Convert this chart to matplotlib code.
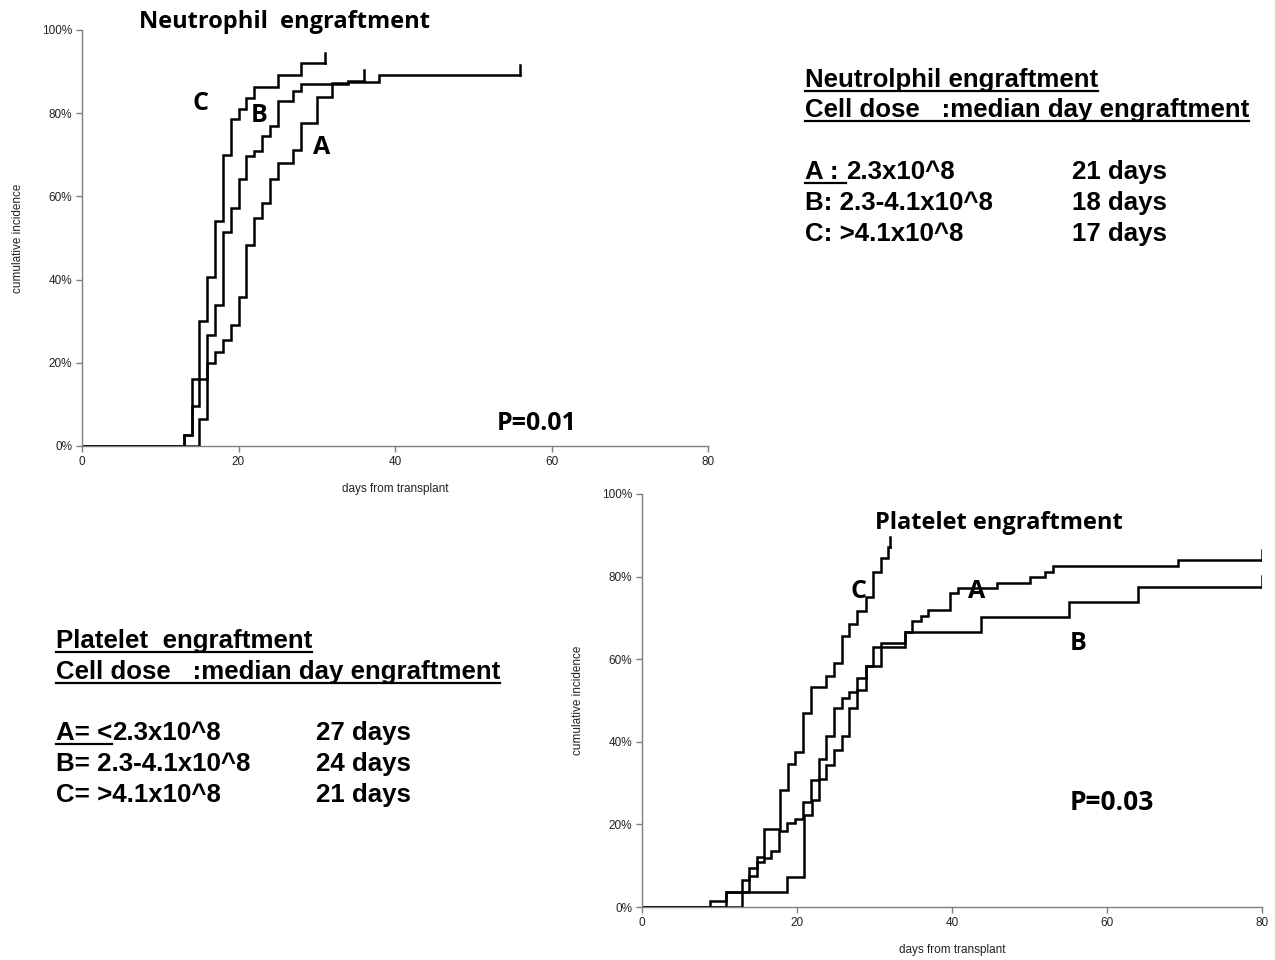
import matplotlib
matplotlib.use('Agg')
import matplotlib.pyplot as plt
from matplotlib.lines import Line2D
from matplotlib.ticker import FuncFormatter

W, H = 1275, 960

# neutrophil engraftment, cumulative incidence (%) by day
neu_a_days = [15, 16, 17, 18, 19, 20, 21, 22, 23, 24, 25, 27, 28, 30, 32, 34, 38]
neu_a_vals = [6.4, 19.9, 22.7, 25.5, 29, 35.9, 48.3, 54.7, 58.3, 64.3, 68, 71.2, 77.6, 83.8, 87, 87.6, 89.2]
neu_a_end = 56
neu_b_days = [13, 14, 15, 16, 17, 18, 19, 20, 21, 22, 23, 24, 25, 27, 28, 32, 34]
neu_b_vals = [2.6, 9.5, 16, 26.7, 33.9, 51.5, 57.1, 64.3, 69.7, 70.8, 74.4, 76.9, 83, 85.4, 87, 87.3, 87.8]
neu_b_end = 36
neu_c_days = [13, 14, 15, 16, 17, 18, 19, 20, 21, 22, 25, 28]
neu_c_vals = [2.6, 16.2, 30, 40.7, 54, 70, 78.5, 81, 83.6, 86.4, 89.2, 92]
neu_c_end = 31

# platelet engraftment
plt_a_days = [10.8, 18.7, 20.9, 21.9, 22.9, 23.8, 24.8, 25.8, 26.7, 27.8, 28.9, 29.8, 33.9,
              34.9, 36.0, 36.9, 39.8, 40.8, 45.8, 50.0, 52.0, 53.0, 69.1]
plt_a_vals = [3.7, 7.3, 22.3, 25.9, 31.0, 34.5, 38.0, 41.5, 48.3, 52.5, 58.4, 62.9, 66.7,
              69.3, 70.5, 71.9, 76.1, 77.2, 78.5, 80.0, 81.2, 82.6, 83.9]
plt_a_end = 80
plt_b_days = [12.9, 13.8, 14.8, 15.7, 16.7, 17.7, 18.7, 19.8, 20.8, 21.8, 22.8, 23.7, 24.8,
              25.8, 26.7, 27.8, 28.9, 30.9, 33.9, 43.8, 55.1, 64.0]
plt_b_vals = [3.7, 7.5, 11.0, 11.8, 13.6, 18.5, 20.3, 21.2, 25.5, 30.8, 35.8, 41.4, 48.1,
              50.5, 52.1, 55.4, 58.4, 64.0, 66.7, 70.1, 73.8, 77.6]
plt_b_end = 80
plt_c_days = [8.8, 10.8, 12.9, 13.8, 14.8, 15.7, 17.8, 18.8, 19.7, 20.8, 21.8, 23.7, 24.8,
              25.8, 26.7, 27.8, 28.9, 29.8, 30.8, 31.8]
plt_c_vals = [1.5, 3.7, 6.5, 9.4, 12.2, 18.8, 28.3, 34.6, 37.6, 46.9, 53.2, 55.9, 59.2,
              65.6, 68.5, 71.7, 75.0, 81.2, 84.4, 87.2]
plt_c_end = 32

yticks = [0, 20, 40, 60, 80, 100]
xticks = [0, 20, 40, 60, 80]

fig = plt.figure(figsize=(W / 100, H / 100), dpi=100)


def px(x, y):
    return x / W, 1 - y / H


def setup_axes(ax):
    ax.set_xlim(0, 80)
    ax.set_ylim(0, 100)
    ax.set_xticks(xticks)
    ax.set_yticks(yticks)
    ax.yaxis.set_major_formatter(FuncFormatter(lambda v, p: '%d%%' % v))
    for s in ['top', 'right']:
        ax.spines[s].set_visible(False)
    for s in ['left', 'bottom']:
        ax.spines[s].set_color('#7f7f7f')
        ax.spines[s].set_linewidth(1.0)
    ax.tick_params(direction='out', length=4, width=1, color='#7f7f7f',
                   labelsize=8.5, labelcolor='#222222', pad=3)
    for lab in ax.get_xticklabels() + ax.get_yticklabels():
        lab.set_family('Liberation Sans')
    ax.set_xlabel('days from transplant', fontsize=8.5, family='Liberation Sans',
                  color='#222222', labelpad=11)
    ax.set_ylabel('cumulative incidence', fontsize=8.5, family='Liberation Sans',
                  color='#222222', labelpad=13)
    ax.patch.set_alpha(0)


def km(ax, days, vals, end):
    xs = [0] + list(days) + [end]
    ys = [0] + list(vals) + [vals[-1]]
    ax.step(xs, ys, where='post', color='black', lw=1.8, solid_joinstyle='miter')
    ax.plot([end, end], [vals[-1], vals[-1] + 2.5], color='black', lw=1.8)


ax1 = fig.add_axes([82 / W, 1 - 446 / H, (708 - 82) / W, 416 / H])
setup_axes(ax1)
km(ax1, neu_a_days, neu_a_vals, neu_a_end)
km(ax1, neu_b_days, neu_b_vals, neu_b_end)
km(ax1, neu_c_days, neu_c_vals, neu_c_end)

ax2 = fig.add_axes([642 / W, 1 - 907 / H, 620 / W, 413 / H])
setup_axes(ax2)
km(ax2, plt_a_days, plt_a_vals, plt_a_end)
km(ax2, plt_b_days, plt_b_vals, plt_b_end)
km(ax2, plt_c_days, plt_c_vals, plt_c_end)

# titles and curve labels
lab_font = dict(family='Open Sans', fontweight='bold', color='black')
fig.text(*px(139, 28), 'Neutrophil  engraftment', fontsize=17, va='baseline', **lab_font)
fig.text(*px(875, 529), 'Platelet engraftment', fontsize=17, va='baseline', **lab_font)
for x, y, s in [(201, 104, 'C'), (259, 115, 'B'), (322, 147, 'A'),
                (858, 591, 'C'), (977, 592, 'A'), (1078, 643, 'B')]:
    fig.text(*px(x, y), s, fontsize=18, ha='center', va='center', **lab_font)
fig.text(*px(537, 423), 'P=0.01', fontsize=18, ha='center', va='center', **lab_font)
fig.text(*px(1112, 802), 'P=0.03', fontsize=19, ha='center', va='center', **lab_font)

renderer = fig.canvas.get_renderer()
TS = 18.6


def line(x, y, parts):
    cur = x
    for s, w, ul in parts:
        t = fig.text(*px(cur, y), s, fontsize=TS, fontweight=w, family='Liberation Sans',
                     va='baseline', ha='left', color='black')
        bb = t.get_window_extent(renderer=renderer)
        if ul:
            uy = 1 - (y + 4) / H
            fig.add_artist(Line2D([bb.x0 / W, bb.x1 / W], [uy, uy], color='black',
                                  lw=1.6, transform=fig.transFigure))
        cur = bb.x1


neu_block = [
    (805, 87, [('Neutrolphil engraftment', 'bold', True)]),
    (805, 117, [('Cell dose   :median day engraftment', 'bold', True)]),
    (805, 179, [('A : ', 'bold', True), ('2.3x10^8', 'bold', False)]),
    (805, 210, [('B: 2.3-4.1x10^8', 'bold', False)]),
    (805, 241, [('C: >4.1x10^8', 'bold', False)]),
]
neu_days_txt = [(1072, 179, '21 days'), (1072, 210, '18 days'), (1072, 241, '17 days')]

plt_block = [
    (56, 648, [('Platelet  engraftment', 'bold', True)]),
    (56, 679, [('Cell dose   :median day engraftment', 'bold', True)]),
    (56, 740, [('A= <', 'bold', True), ('2.3x10^8', 'bold', False)]),
    (56, 771, [('B= 2.3-4.1x10^8', 'bold', False)]),
    (56, 802, [('C= >4.1x10^8', 'bold', False)]),
]
plt_days_txt = [(316, 740, '27 days'), (316, 771, '24 days'), (316, 802, '21 days')]

for x, y, parts in neu_block + plt_block:
    line(x, y, parts)
for x, y, s in neu_days_txt + plt_days_txt:
    line(x, y, [(s, 'bold', False)])

fig.savefig('out.png', dpi=100)
